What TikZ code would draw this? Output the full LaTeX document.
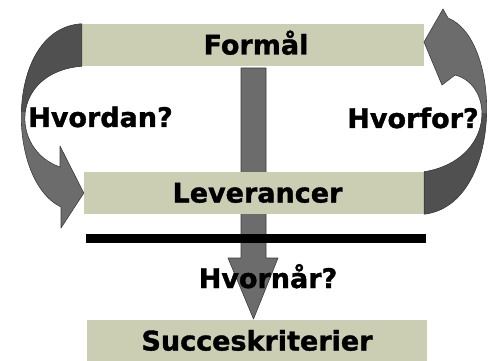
\documentclass[tikz,border=0pt]{standalone}
\usepackage{fontspec}
\setmainfont{DejaVu Sans}[BoldFeatures={FakeBold=1.3}]
\usetikzlibrary{calc}
\definecolor{boxfill}{RGB}{204,206,180}
\definecolor{arrlight}{RGB}{108,108,108}
\definecolor{arrdark}{RGB}{80,80,80}
\definecolor{arredge}{RGB}{60,60,60}
\tikzset{
  txt/.style={font=\fontsize{27}{31}\selectfont\bfseries, text=black},
  stepbox/.style={txt, fill=boxfill, draw=none, inner sep=0pt,
    minimum width=342pt, minimum height=42pt, text height=19pt, text depth=0pt},
  lbl/.style={txt, inner sep=0pt, anchor=base},
  arrbody/.style={fill=arrlight},
  arroutline/.style={draw=arredge, line width=0.6pt, line join=round}
}
\begin{document}
\begin{tikzpicture}[x=1pt,y=-1pt]
\useasboundingbox (0,0) rectangle (488,361);

% vertical arrow (behind boxes)
\coordinate (vtop) at (253.5,68);
\coordinate (vtip) at (253.5,319);
\path[arrbody, arroutline]
  ($(vtop)+(-12.5,0)$) -- ($(vtop)+(-12.5,190)$) -- ($(vtop)+(-25.5,190)$)
  -- (vtip) -- ($(vtop)+(24.5,190)$) -- ($(vtop)+(12.5,190)$)
  -- ($(vtop)+(12.5,0)$) -- cycle;

% boxes
\node[stepbox] (formal) at (253,45) {\hspace*{6pt}Formål};
\node[stepbox, minimum width=340pt] (lever) at (254,193) {\hspace*{7pt}Leverancer};
\node[stepbox, minimum width=340pt] (succ) at (257,341) {Succeskriterier};

% left curved arrow (Hvordan?)
\newcommand\lhpath{(formal.north west) .. controls (5,28) and (5,180) .. (61,207)
  -- (61,228) -- (lever.west) -- (60,146) -- (60,167)
  .. controls (10,150) and (10,72) .. (formal.south west) -- cycle}
\fill[arrlight] \lhpath;
\begin{scope}
  \clip (0,0) rectangle (100,112);
  \fill[arrdark] \lhpath;
\end{scope}
\draw[arroutline] \lhpath;

% right curved arrow (Hvorfor?)
\newcommand\rhpath{(lever.south east) .. controls (503,205) and (503,40) .. (448,18)
  -- (443,9) -- (424,42) -- (442,85) -- (455,75)
  .. controls (495,85) and (495,160) .. (lever.north east) -- cycle}
\fill[arrlight] \rhpath;
\begin{scope}
  \clip (400,114) rectangle (488,240);
  \fill[arrdark] \rhpath;
\end{scope}
\draw[arroutline] \rhpath;

% black bar
\fill[black] (86,234) rectangle (426,243);

% labels
\node[lbl] (hvordan) at (100.5,127) {Hvordan?};
\node[lbl] (hvorfor) at (413,128) {Hvorfor?};
\node[lbl] (hvornaar) at (268,288) {Hvornår?};
\end{tikzpicture}
\end{document}
